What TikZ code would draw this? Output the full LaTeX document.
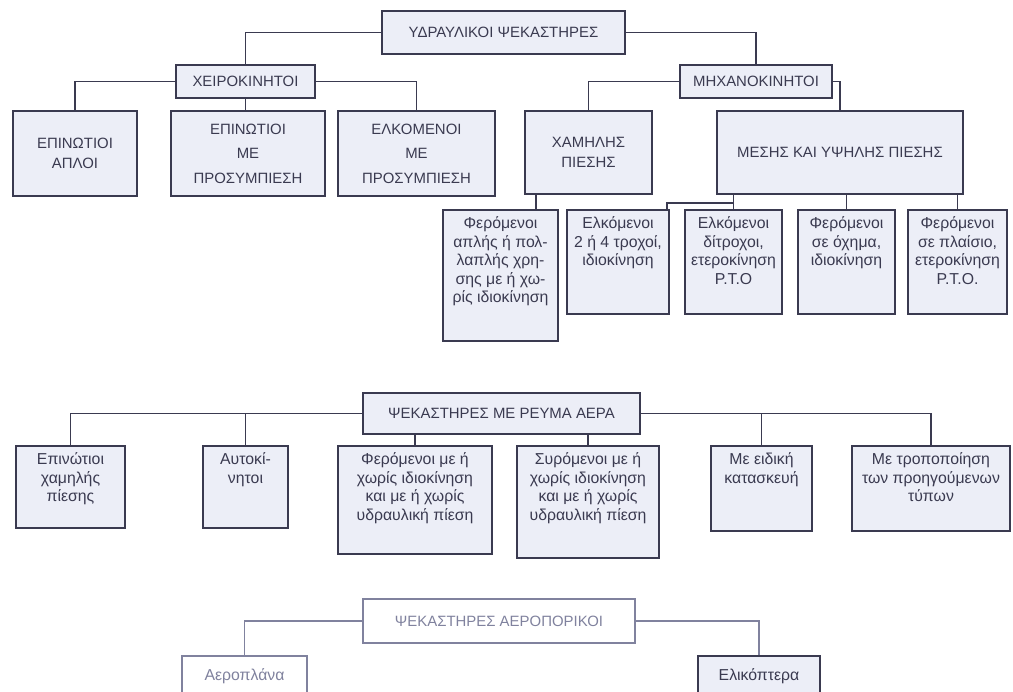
\documentclass[tikz,border=0pt]{standalone}
\usepackage{fontspec}
\setmainfont{Liberation Sans}
\definecolor{ink}{RGB}{58,58,80}
\definecolor{paper}{RGB}{236,238,247}
\definecolor{faded}{RGB}{128,130,158}
% text that starts at the top of a fixed-size box
\newcommand{\boxtext}[3]{\parbox[c][#2][t]{#1}{\centering\vspace*{4pt}#3}}

\begin{document}
\begin{tikzpicture}[
        line width=0.8pt,
        every node/.style={text=ink},
        cell/.style={draw=ink, fill=paper, line width=1.1pt, anchor=north,
            inner sep=0pt, font=\fontsize{9}{10.5}\selectfont},
        caps/.style={cell, align=center, font=\fontsize{8.5}{11}\selectfont},
        link/.style={draw=ink, line width=0.8pt},
        pale/.style={draw=faded, text=faded, fill=white}
    ]
    \useasboundingbox (0,0) rectangle (20.26,-13.82);
    \clip (0,0) rectangle (20.26,-13.82);

    % Hydraulic sprayers
    \node[caps, minimum width=4.86cm, minimum height=0.86cm] (root) at (10.07,-0.20) {ΥΔΡΑΥΛΙΚΟΙ ΨΕΚΑΣΤΗΡΕΣ};
    \node[caps, minimum width=2.78cm, minimum height=0.66cm] (hand) at (4.91,-1.28) {ΧΕΙΡΟΚΙΝΗΤΟΙ};
    \node[caps, minimum width=3.04cm, minimum height=0.66cm] (mech) at (15.12,-1.28) {ΜΗΧΑΝΟΚΙΝΗΤΟΙ};

    \node[caps, minimum width=2.48cm, minimum height=1.70cm] (b1) at (1.50,-2.20) {ΕΠΙΝΩΤΙΟΙ\\ΑΠΛΟΙ};
    \node[caps, minimum width=3.08cm, minimum height=1.70cm] (b2) at (4.96,-2.20) {ΕΠΙΝΩΤΙΟΙ\\[3pt]ΜΕ\\[3pt]ΠΡΟΣΥΜΠΙΕΣΗ};
    \node[caps, minimum width=3.14cm, minimum height=1.70cm] (b3) at (8.33,-2.20) {ΕΛΚΟΜΕΝΟΙ\\[3pt]ΜΕ\\[3pt]ΠΡΟΣΥΜΠΙΕΣΗ};
    \node[caps, minimum width=2.54cm, minimum height=1.66cm] (low) at (11.77,-2.20) {ΧΑΜΗΛΗΣ\\ΠΙΕΣΗΣ};
    \node[caps, minimum width=4.92cm, minimum height=1.66cm] (mid) at (16.80,-2.20) {ΜΕΣΗΣ ΚΑΙ ΥΨΗΛΗΣ ΠΙΕΣΗΣ};

    \node[cell] (c1) at (10.01,-4.18) {\boxtext{2.30cm}{2.62cm}{Φερόμενοι\\απλής ή πολ-\\λαπλής χρη-\\σης με ή χω-\\ρίς ιδιοκίνηση}};
    \node[cell] (c2) at (12.36,-4.18) {\boxtext{2.04cm}{2.08cm}{Ελκόμενοι\\2 ή 4 τροχοί,\\ιδιοκίνηση}};
    \node[cell] (c3) at (14.67,-4.18) {\boxtext{1.94cm}{2.08cm}{Ελκόμενοι\\δίτροχοι,\\ετεροκίνηση\\P.T.O}};
    \node[cell] (c4) at (16.93,-4.18) {\boxtext{1.94cm}{2.08cm}{Φερόμενοι\\σε όχημα,\\ιδιοκίνηση}};
    \node[cell] (c5) at (19.15,-4.18) {\boxtext{1.98cm}{2.08cm}{Φερόμενοι\\σε πλαίσιο,\\ετεροκίνηση\\P.T.O.}};

    \draw[link] (root.west) -| (hand.north);
    \draw[link] (root.east) -| (mech.north);
    \draw[link] (hand.west) -| (b1.north);
    \draw[link] (hand.east) -| (b3.north);
    \draw[link] (hand.south) -- (hand.south |- b2.north);
    \draw[link] (mech.west) -| (low.north);
    \draw[link] (mech.east) -| (mid.north);
    \draw[link] ([xshift=0.24cm]low.south west) -- ([xshift=0.24cm]low.south west |- c1.north);
    \draw[link] (c3.north |- mid.south) -- (c3.north);
    \draw[link] (c3.north |- 0,-4.06) -| ([xshift=-0.06cm]c2.north east);
    \draw[link] (c4.north |- mid.south) -- (c4.north);
    \draw[link] (c5.north |- mid.south) -- (c5.north);

    % Air-blast sprayers
    \node[caps, minimum width=5.54cm, minimum height=0.82cm] (air) at (10.03,-7.84) {ΨΕΚΑΣΤΗΡΕΣ ΜΕ ΡΕΥΜΑ ΑΕΡΑ};

    \node[cell] (d1) at (1.41,-8.90) {\boxtext{2.18cm}{1.64cm}{Επινώτιοι\\χαμηλής\\πίεσης}};
    \node[cell] (d2) at (4.91,-8.90) {\boxtext{1.70cm}{1.64cm}{Αυτοκί-\\νητοι}};
    \node[cell] (d3) at (8.30,-8.90) {\boxtext{3.08cm}{2.16cm}{Φερόμενοι με ή\\χωρίς ιδιοκίνηση\\και με ή χωρίς\\υδραυλική πίεση}};
    \node[cell] (d4) at (11.76,-8.90) {\boxtext{2.84cm}{2.24cm}{Συρόμενοι με ή\\χωρίς ιδιοκίνηση\\και με ή χωρίς\\υδραυλική πίεση}};
    \node[cell] (d5) at (15.23,-8.90) {\boxtext{2.02cm}{1.70cm}{Με ειδική\\κατασκευή}};
    \node[cell] (d6) at (18.62,-8.90) {\boxtext{3.16cm}{1.70cm}{Με τροποποίηση\\των προηγούμενων\\τύπων}};

    \draw[link] (air.west) -| (d1.north);
    \draw[link] (d2.north |- air.west) -- (d2.north);
    \draw[link] (d3.north |- air.south) -- (d3.north);
    \draw[link] (d4.north |- air.south) -- (d4.north);
    \draw[link] (air.east) -| (d6.north);
    \draw[link] (d5.north |- air.east) -- (d5.north);

    % Aerial sprayers
    \node[caps, pale, minimum width=5.44cm, minimum height=0.88cm] (aero) at (9.98,-11.96) {ΨΕΚΑΣΤΗΡΕΣ ΑΕΡΟΠΟΡΙΚΟΙ};
    \node[caps, pale, font=\fontsize{9}{10.5}\selectfont, minimum width=2.50cm, minimum height=0.80cm] (e1) at (4.89,-13.10) {Αεροπλάνα};
    \node[caps, font=\fontsize{9}{10.5}\selectfont, minimum width=2.44cm, minimum height=0.80cm] (e2) at (15.18,-13.10) {Ελικόπτερα};

    \draw[link, draw=faded] (aero.west) -| (e1.north);
    \draw[link, draw=faded] (aero.east) -| (e2.north);
\end{tikzpicture}
\end{document}
